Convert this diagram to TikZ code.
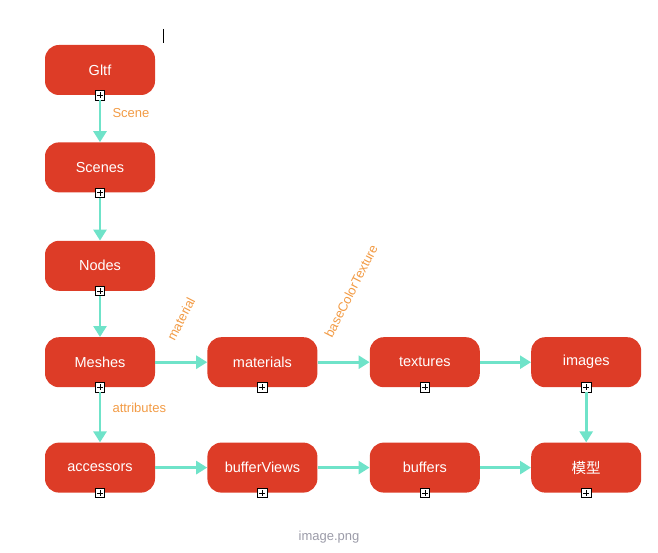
\documentclass[tikz,border=0pt]{standalone}
\usepackage{fontspec}
\setmainfont{Liberation Sans}
\newfontfamily\cjkfont{Noto Sans CJK SC}
\usepackage{xcolor}
\usetikzlibrary{arrows.meta,positioning}
\definecolor{GLRed}{HTML}{DD3C27}
\definecolor{GLTeal}{HTML}{6FE3C9}
\definecolor{GLOrange}{HTML}{F29B45}
\definecolor{GLGrey}{HTML}{9B9BA8}

\begin{document}
\begin{tikzpicture}[x=1pt, y=-1pt,
  box/.style={fill=GLRed, rounded corners=14pt, minimum width=110pt,
    minimum height=50pt, text=white, font=\fontsize{14.5}{16}\selectfont},
  expander/.style={draw=black, fill=white, line width=0.6pt, minimum size=9.5pt,
    inner sep=0pt, path picture={
      \draw[line width=0.6pt]
        ([xshift=1.8pt]path picture bounding box.west) -- ([xshift=-1.8pt]path picture bounding box.east)
        ([yshift=-1.8pt]path picture bounding box.north) -- ([yshift=1.8pt]path picture bounding box.south);}},
  link/.style={draw=GLTeal, line width=2.6pt, -{Triangle[length=11pt,width=13pt]}},
  tag/.style={text=GLOrange, font=\fontsize{13}{15}\selectfont}]
\useasboundingbox (0,0) rectangle (658,553);

% first column
\node[box] (gltf) at (100,70) {Gltf};
\node[box, below=47pt of gltf] (scenes) {Scenes};
\node[box, below=48pt of scenes] (nodes) {Nodes};
\node[box, below=46pt of nodes] (meshes) {Meshes};
\node[box, below=55pt of meshes] (accessors) {accessors};

% material row
\node[box, right=52pt of meshes] (materials) {materials};
\node[box, right=52pt of materials] (textures) {textures};
\node[box, right=51pt of textures] (images) {images};

% buffer row
\node[box, right=52pt of accessors] (bufferviews) {bufferViews};
\node[box, right=52pt of bufferviews] (buffers) {buffers};
\node[box, right=51pt of buffers] (model) {\cjkfont 模型};

\foreach \n in {gltf,scenes,nodes,meshes,accessors,materials,textures,images,bufferviews,buffers,model}
  \node[expander] (\n-x) at (\n.south) {};

\draw[link] (gltf-x) -- (scenes);
\draw[link] (scenes-x) -- (nodes);
\draw[link] (nodes-x) -- (meshes);
\draw[link] (meshes-x) -- (accessors);
\draw[link] (images-x) -- (model);
\draw[link] (meshes) -- (materials);
\draw[link] (materials) -- (textures);
\draw[link] (textures) -- (images);
\draw[link] (accessors) -- (bufferviews);
\draw[link] (bufferviews) -- (buffers);
\draw[link] (buffers) -- (model);

\node[tag, anchor=west] (scene-l) at (109,113) {Scene};
\node[tag, anchor=west] (attributes-l) at (109,408) {attributes};
\node[tag, rotate=63] (material-l) at (181,319) {material};
\node[tag, rotate=63] (basecolor-l) at (351,291) {baseColorTexture};

\node[text=GLGrey, font=\fontsize{13}{15}\selectfont] (caption) at (329,537) {image.png};
\draw[line width=0.8pt] (163,29) -- (163,43);
\end{tikzpicture}
\end{document}
